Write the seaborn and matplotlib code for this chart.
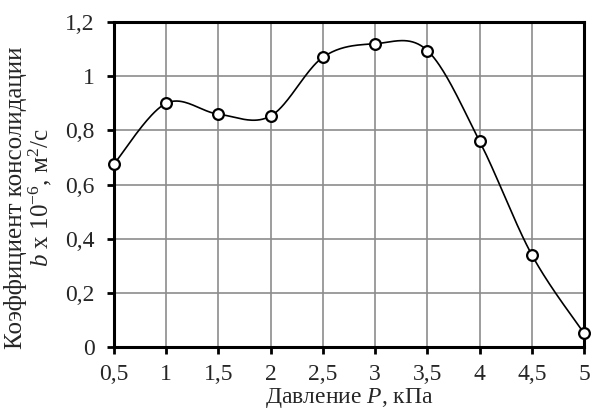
import numpy as np
import pandas as pd
import matplotlib
matplotlib.use("Agg")
import matplotlib.pyplot as plt
from matplotlib.ticker import FuncFormatter, MultipleLocator
import seaborn as sns

# Data
pressure = [0.5, 1.0, 1.5, 2.0, 2.5, 3.0, 3.5, 4.0, 4.5, 5.0]
coef = [0.675, 0.90, 0.86, 0.853, 1.07, 1.12, 1.095, 0.76, 0.34, 0.05]

sns.set_style("white")
plt.rcParams["font.family"] = ["Liberation Serif", "DejaVu Serif"]
plt.rcParams["mathtext.fontset"] = "custom"
plt.rcParams["mathtext.rm"] = "Liberation Serif"
plt.rcParams["mathtext.it"] = "Liberation Serif:italic"


# Excel-like smoothed line (Catmull-Rom through the points)
def smooth(x, y, n=40):
    x = np.asarray(x, float)
    y = np.asarray(y, float)
    px = np.concatenate([[x[0]], x, [x[-1]]])
    py = np.concatenate([[y[0]], y, [y[-1]]])
    xs, ys = [], []
    t = np.linspace(0, 1, n)
    for i in range(1, len(px) - 2):
        for p, out in ((px, xs), (py, ys)):
            p0, p1, p2, p3 = p[i - 1], p[i], p[i + 1], p[i + 2]
            out.extend(0.5 * (2 * p1 + (-p0 + p2) * t
                              + (2 * p0 - 5 * p1 + 4 * p2 - p3) * t ** 2
                              + (-p0 + 3 * p1 - 3 * p2 + p3) * t ** 3))
    return np.array(xs), np.array(ys)


sx, sy = smooth(pressure, coef)
curve = pd.DataFrame({"x": sx, "y": sy})
pts = pd.DataFrame({"x": pressure, "y": coef})

fig = plt.figure(figsize=(5.93, 4.17), dpi=100)
ax = fig.add_axes([0.192, 0.168, 0.793, 0.779])

sns.lineplot(data=curve, x="x", y="y", ax=ax, color="black", lw=1.2,
             sort=False, zorder=3)
sns.scatterplot(data=pts, x="x", y="y", ax=ax, marker="o", s=60,
                facecolor="white", edgecolor="black", linewidth=1.6, zorder=4,
                clip_on=False)

ax.set_xlim(0.5, 5)
ax.set_ylim(0, 1.2)
ax.xaxis.set_major_locator(MultipleLocator(0.5))
ax.yaxis.set_major_locator(MultipleLocator(0.2))
fmt = FuncFormatter(lambda v, p: f"{round(v, 2):g}".replace(".", ","))
ax.xaxis.set_major_formatter(fmt)
ax.yaxis.set_major_formatter(fmt)

ax.grid(True, color="#8c8c8c", lw=1.2)
ax.set_axisbelow(True)
for s in ax.spines.values():
    s.set_color("black")
    s.set_linewidth(2.2)
ax.tick_params(axis="both", direction="out", length=5, width=2,
               color="black", labelsize=17, bottom=True, left=True)
ax.tick_params(axis="x", pad=7)
ax.tick_params(axis="y", pad=9)

ax.set_xlabel("Давление $P$, кПа", fontsize=17, labelpad=1)
ax.set_ylabel("Коэффициент консолидации\n$b$ x 10$^{-6}$, м$^2$/с",
              fontsize=18, linespacing=0.95)
ax.yaxis.set_label_coords(-0.128, 0.46)

fig.savefig("out.png", dpi=100)
